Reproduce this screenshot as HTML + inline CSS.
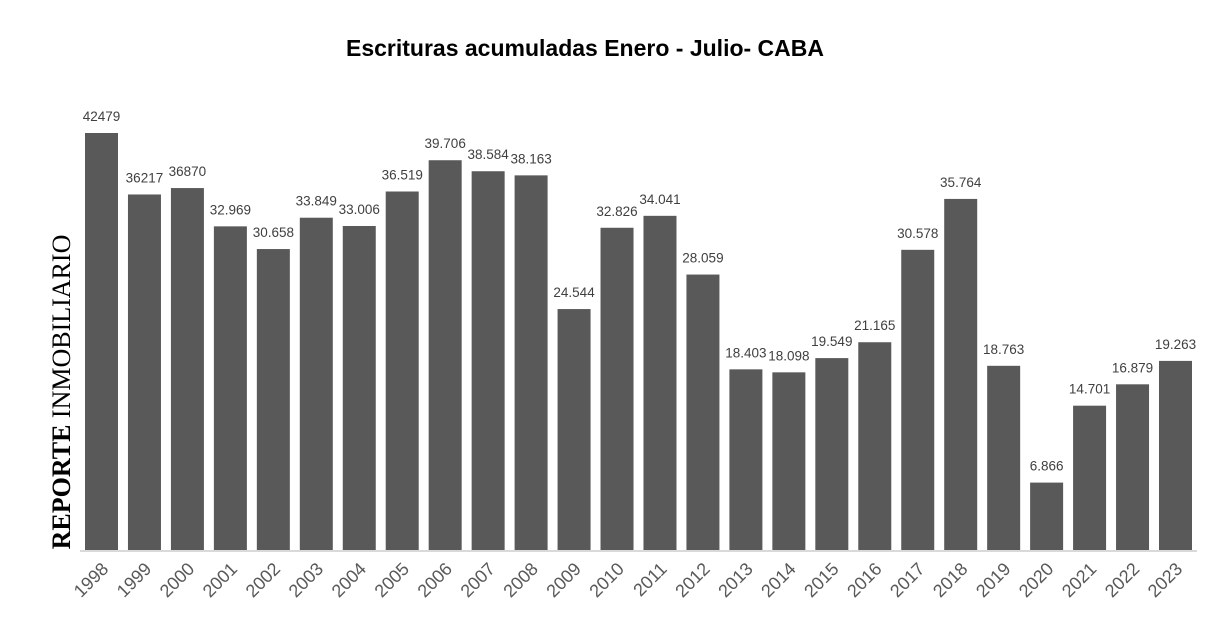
<!DOCTYPE html>
<html><head><meta charset="utf-8"><style>
body{margin:0;background:#fff;width:1216px;height:636px;overflow:hidden}
</style></head><body>
<svg width="1216" height="636" xmlns="http://www.w3.org/2000/svg">
<text x="585" y="56" text-anchor="middle" font-family="Liberation Sans, sans-serif" font-weight="bold" font-size="23" fill="#000">Escrituras acumuladas Enero - Julio- CABA</text>
<text transform="translate(70,392) rotate(-90)" text-anchor="middle" font-family="Liberation Serif, serif" font-size="26" fill="#000"><tspan font-weight="bold">REPORTE</tspan> INMOBILIARIO</text>
<g id="bars"></g>
<line x1="80" y1="551" x2="1197" y2="551" stroke="#d9d9d9" stroke-width="2"/>
</svg>
<script>
const d=[["1998",42479,"42479"],["1999",36217,"36217"],["2000",36870,"36870"],["2001",32969,"32.969"],["2002",30658,"30.658"],["2003",33849,"33.849"],["2004",33006,"33.006"],["2005",36519,"36.519"],["2006",39706,"39.706"],["2007",38584,"38.584"],["2008",38163,"38.163"],["2009",24544,"24.544"],["2010",32826,"32.826"],["2011",34041,"34.041"],["2012",28059,"28.059"],["2013",18403,"18.403"],["2014",18098,"18.098"],["2015",19549,"19.549"],["2016",21165,"21.165"],["2017",30578,"30.578"],["2018",35764,"35.764"],["2019",18763,"18.763"],["2020",6866,"6.866"],["2021",14701,"14.701"],["2022",16879,"16.879"],["2023",19263,"19.263"]];
let s="";const base=550,k=417/42479;
d.forEach((r,i)=>{const x=85+i*42.96,h=r[1]*k,y=base-h,cx=x+16.5;
s+=`<rect x="${x}" y="${y}" width="33" height="${h}" fill="#595959"/>`;
s+=`<text x="${cx}" y="${y-12}" text-anchor="middle" font-family="Liberation Sans, sans-serif" font-size="13.5" fill="#404040">${r[2]}</text>`;
s+=`<text transform="translate(${cx+8},570) rotate(-45)" text-anchor="end" font-family="Liberation Sans, sans-serif" font-size="18" fill="#595959">${r[0]}</text>`;});
document.getElementById("bars").innerHTML=s;
</script>
</body></html>
